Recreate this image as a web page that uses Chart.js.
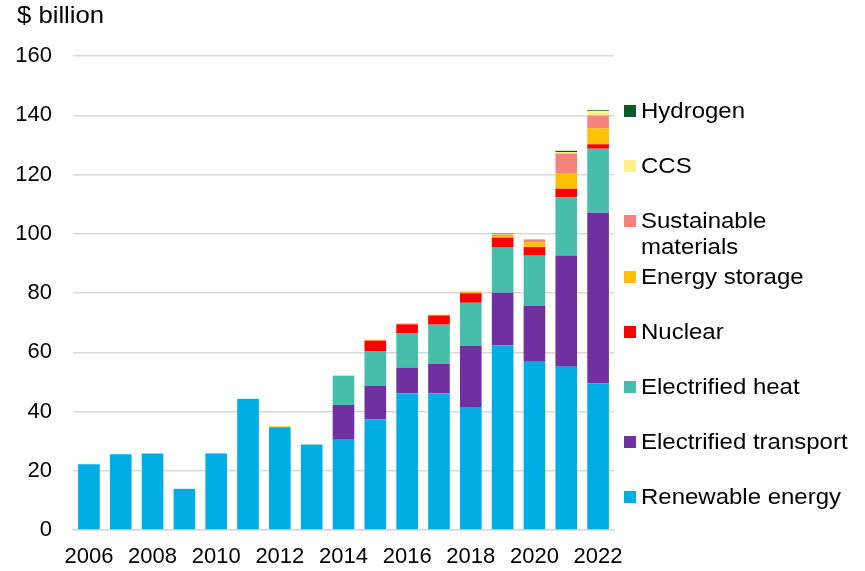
<!DOCTYPE html>
<html>
<head>
<meta charset="utf-8">
<script src="https://cdn.jsdelivr.net/npm/chart.js@4"></script>
<style>
  body { margin: 0; background: #fff; font-family: "Liberation Sans", Arial, sans-serif; }
  #wrap { position: relative; width: 865px; height: 571px; }
  #unit { position: absolute; left: 17px; top: 1px; font-size: 24px; color: #000; transform: scaleX(1.07); transform-origin: left top; }
  #legend { position: absolute; left: 624px; top: 0; }
  .item { position: absolute; left: 0; white-space: nowrap; font-size: 22px; line-height: 26px; color: #000; }
  .box { position: absolute; left: 0; width: 12px; height: 12px; }
  .txt { position: absolute; left: 17px; transform: scaleX(1.09); transform-origin: left top; }
</style>
</head>
<body>
<div id="wrap">
  <canvas id="chart" width="865" height="571"></canvas>
  <div id="unit">$ billion</div>
  <div id="legend"></div>
</div>
<script>
const years = ['2006','2007','2008','2009','2010','2011','2012','2013','2014','2015','2016','2017','2018','2019','2020','2021','2022'];

const renewable   = [22.2, 25.6, 25.8, 13.9, 25.8, 44.2, 34.7, 28.8, 30.7, 37.4, 46.2, 46.1, 41.5, 62.4, 56.8, 55.1, 49.5];
const transport   = [0, 0, 0, 0, 0, 0, 0, 0, 11.5, 11.3, 8.6, 10.0, 20.7, 17.7, 18.8, 37.6, 57.6];
const heat        = [0, 0, 0, 0, 0, 0.1, 0, 0.1, 9.9, 11.7, 11.5, 13.2, 14.5, 15.4, 17.0, 19.6, 21.6];
const nuclear     = [0, 0, 0, 0, 0, 0, 0, 0, 0, 3.5, 3.1, 3.1, 3.2, 3.2, 2.9, 2.9, 1.5];
const storage     = [0, 0, 0, 0, 0.1, 0, 0.3, 0, 0, 0.3, 0.4, 0.3, 0.6, 0.5, 1.6, 5.3, 5.4];
const sustainable = [0, 0, 0, 0, 0, 0, 0, 0, 0, 0, 0, 0, 0, 0.5, 1.0, 6.6, 4.3];
const ccs         = [0.2, 0, 0, 0, 0, 0, 0, 0.1, 0, 0, 0, 0, 0.1, 0.3, 0, 0.5, 1.6];
const hydrogen    = [0, 0, 0, 0, 0, 0, 0, 0, 0, 0, 0, 0, 0, 0.2, 0, 0.4, 0.3];

const series = [
  { label: 'Renewable energy', data: renewable, color: '#00ADE4' },
  { label: 'Electrified transport', data: transport, color: '#7030A0' },
  { label: 'Electrified heat', data: heat, color: '#45BFAB' },
  { label: 'Nuclear', data: nuclear, color: '#FF0000' },
  { label: 'Energy storage', data: storage, color: '#FFC000' },
  { label: ['Sustainable', 'materials'], data: sustainable, color: '#F4847B' },
  { label: 'CCS', data: ccs, color: '#FFF08A' },
  { label: 'Hydrogen', data: hydrogen, color: '#0B5A2B' }
];

// legend (top to bottom: Hydrogen ... Renewable energy)
const legendY = [111, 166, 221, 277, 332, 387, 442, 497];
const legendEl = document.getElementById('legend');
series.slice().reverse().forEach((s, i) => {
  const item = document.createElement('div');
  item.className = 'item';
  item.style.top = (legendY[i] - 13) + 'px';
  const box = document.createElement('div');
  box.className = 'box';
  box.style.top = '7px';
  box.style.background = s.color;
  const txt = document.createElement('div');
  txt.className = 'txt';
  txt.innerHTML = Array.isArray(s.label) ? s.label.join('<br>') : s.label;
  item.appendChild(box);
  item.appendChild(txt);
  legendEl.appendChild(item);
});

const font = { family: '"Liberation Sans", Arial, sans-serif', size: 22 };

new Chart(document.getElementById('chart'), {
  type: 'bar',
  data: {
    labels: years,
    datasets: series.map(s => ({
      label: Array.isArray(s.label) ? s.label.join(' ') : s.label,
      data: s.data,
      backgroundColor: s.color,
      borderWidth: 0,
      barPercentage: 0.68,
      categoryPercentage: 1.0
    }))
  },
  options: {
    responsive: false,
    animation: false,
    layout: { padding: { top: 56, right: 251, bottom: 0, left: 0 } },
    plugins: {
      legend: { display: false },
      tooltip: { enabled: false }
    },
    scales: {
      x: {
        stacked: true,
        grid: { display: false },
        border: { color: '#d9d9d9', width: 1.5 },
        ticks: {
          color: '#000',
          font: font,
          padding: 6,
          maxRotation: 0,
          autoSkip: false,
          callback: function (value, index) {
            return index % 2 === 0 ? this.getLabelForValue(value) : '';
          }
        },
        afterFit: s => { s.height = 41; }
      },
      y: {
        stacked: true,
        min: 0,
        max: 160,
        grid: { color: '#d9d9d9', lineWidth: 1.5, drawTicks: false },
        border: { display: false },
        ticks: { stepSize: 20, color: '#000', font: font, padding: 21 },
        afterFit: s => { s.width = 73; }
      }
    }
  }
});
</script>
</body>
</html>
